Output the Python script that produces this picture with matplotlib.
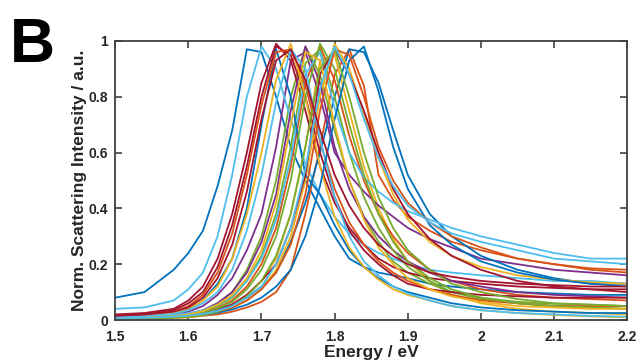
import matplotlib
matplotlib.use("Agg")
import matplotlib.pyplot as plt

plt.rcParams['font.family'] = ['Liberation Sans', 'DejaVu Sans']

energy = [1.50, 1.54, 1.58, 1.60, 1.62, 1.64, 1.66, 1.68, 1.70, 1.72, 1.74, 1.76, 1.78,
          1.80, 1.82, 1.84, 1.86, 1.88, 1.90, 1.93, 1.96, 2.00, 2.05, 2.10, 2.15, 2.20]

# normalised scattering spectra, one list per particle
blue_1 = [0.08, 0.10, 0.18, 0.24, 0.32, 0.48, 0.68, 0.97, 0.96, 0.80, 0.62, 0.50, 0.40,
          0.30, 0.22, 0.19, 0.17, 0.16, 0.15, 0.13, 0.12, 0.11, 0.10, 0.095, 0.09, 0.09]
blue_2 = [0.005, 0.01, 0.015, 0.02, 0.03, 0.04, 0.055, 0.08, 0.12, 0.17, 0.28, 0.42, 0.60,
          0.80, 0.97, 0.96, 0.85, 0.68, 0.52, 0.38, 0.30, 0.23, 0.18, 0.15, 0.13, 0.13]
blue_3 = [0.008, 0.012, 0.025, 0.04, 0.07, 0.13, 0.22, 0.40, 0.70, 0.97, 0.80, 0.52, 0.45,
          0.34, 0.25, 0.19, 0.15, 0.12, 0.10, 0.08, 0.06, 0.045, 0.035, 0.03, 0.025, 0.025]
blue_4 = [0.004, 0.006, 0.01, 0.013, 0.018, 0.026, 0.038, 0.055, 0.08, 0.12, 0.18, 0.30, 0.48,
          0.72, 0.93, 0.98, 0.82, 0.62, 0.47, 0.34, 0.27, 0.21, 0.17, 0.145, 0.13, 0.12]
lblue_1 = [0.04, 0.045, 0.07, 0.11, 0.17, 0.30, 0.52, 0.80, 0.98, 0.90, 0.72, 0.56, 0.45,
           0.37, 0.31, 0.27, 0.24, 0.22, 0.20, 0.18, 0.17, 0.16, 0.15, 0.14, 0.14, 0.13]
lblue_2 = [0.01, 0.012, 0.018, 0.024, 0.035, 0.055, 0.085, 0.14, 0.22, 0.36, 0.58, 0.88, 0.96,
           0.76, 0.60, 0.51, 0.46, 0.42, 0.39, 0.36, 0.33, 0.30, 0.27, 0.24, 0.22, 0.22]
lblue_3 = [0.01, 0.013, 0.022, 0.035, 0.06, 0.10, 0.18, 0.32, 0.52, 0.78, 0.97, 0.90, 0.65,
           0.44, 0.30, 0.21, 0.16, 0.12, 0.095, 0.07, 0.05, 0.035, 0.025, 0.02, 0.015, 0.012]
lblue_4 = [0.006, 0.008, 0.012, 0.016, 0.022, 0.033, 0.05, 0.08, 0.12, 0.20, 0.33, 0.54, 0.83,
           0.98, 0.88, 0.72, 0.58, 0.48, 0.41, 0.35, 0.31, 0.28, 0.25, 0.22, 0.21, 0.20]
red_1 = [0.02, 0.025, 0.04, 0.07, 0.12, 0.22, 0.38, 0.60, 0.85, 0.99, 0.93, 0.75, 0.55,
         0.42, 0.33, 0.27, 0.22, 0.19, 0.17, 0.15, 0.14, 0.13, 0.12, 0.115, 0.11, 0.11]
red_2 = [0.015, 0.02, 0.035, 0.06, 0.10, 0.19, 0.34, 0.55, 0.80, 0.98, 0.95, 0.80, 0.60,
         0.44, 0.32, 0.25, 0.20, 0.16, 0.13, 0.11, 0.10, 0.09, 0.085, 0.08, 0.08, 0.08]
red_3 = [0.004, 0.006, 0.01, 0.014, 0.021, 0.034, 0.056, 0.09, 0.14, 0.20, 0.33, 0.52, 0.88,
         0.97, 0.88, 0.75, 0.60, 0.47, 0.38, 0.29, 0.23, 0.18, 0.14, 0.12, 0.11, 0.10]
red_4 = [0.015, 0.02, 0.03, 0.045, 0.08, 0.15, 0.27, 0.46, 0.72, 0.93, 0.97, 0.86, 0.68,
         0.52, 0.41, 0.33, 0.27, 0.23, 0.20, 0.17, 0.155, 0.14, 0.13, 0.125, 0.12, 0.12]
orange_1 = [0.003, 0.005, 0.008, 0.01, 0.015, 0.02, 0.03, 0.045, 0.065, 0.10, 0.18, 0.38, 0.62,
            0.88, 0.97, 0.84, 0.52, 0.43, 0.37, 0.32, 0.28, 0.25, 0.22, 0.20, 0.185, 0.18]
orange_2 = [0.004, 0.006, 0.011, 0.016, 0.025, 0.043, 0.07, 0.12, 0.20, 0.33, 0.55, 0.85, 0.98,
            0.86, 0.66, 0.50, 0.38, 0.30, 0.24, 0.18, 0.14, 0.11, 0.09, 0.08, 0.075, 0.07]
orange_3 = [0.01, 0.015, 0.03, 0.05, 0.09, 0.17, 0.31, 0.52, 0.77, 0.96, 0.97, 0.84, 0.64,
            0.47, 0.35, 0.27, 0.21, 0.17, 0.14, 0.11, 0.09, 0.07, 0.06, 0.05, 0.05, 0.05]
orange_4 = [0.004, 0.006, 0.01, 0.013, 0.02, 0.03, 0.045, 0.07, 0.11, 0.17, 0.27, 0.45, 0.75,
            0.97, 0.95, 0.80, 0.62, 0.50, 0.42, 0.35, 0.30, 0.26, 0.22, 0.20, 0.18, 0.17]
yellow_1 = [0.003, 0.005, 0.009, 0.013, 0.02, 0.033, 0.055, 0.09, 0.14, 0.22, 0.38, 0.62, 0.93,
            0.95, 0.75, 0.55, 0.40, 0.29, 0.21, 0.14, 0.09, 0.06, 0.04, 0.03, 0.025, 0.02]
yellow_2 = [0.003, 0.004, 0.007, 0.01, 0.016, 0.026, 0.043, 0.07, 0.11, 0.18, 0.30, 0.50, 0.80,
            0.99, 0.90, 0.74, 0.58, 0.45, 0.36, 0.28, 0.23, 0.19, 0.16, 0.145, 0.135, 0.13]
yellow_3 = [0.008, 0.012, 0.025, 0.04, 0.07, 0.12, 0.22, 0.38, 0.60, 0.86, 0.99, 0.80, 0.55,
            0.37, 0.26, 0.19, 0.145, 0.11, 0.09, 0.07, 0.05, 0.035, 0.025, 0.018, 0.013, 0.01]
yellow_4 = [0.005, 0.008, 0.014, 0.02, 0.032, 0.055, 0.09, 0.15, 0.25, 0.42, 0.70, 0.96, 0.93,
            0.70, 0.50, 0.36, 0.26, 0.20, 0.15, 0.11, 0.085, 0.065, 0.05, 0.045, 0.04, 0.04]
purple_1 = [0.005, 0.01, 0.02, 0.03, 0.05, 0.09, 0.15, 0.25, 0.38, 0.62, 0.93, 0.96, 0.80,
            0.60, 0.52, 0.46, 0.41, 0.37, 0.33, 0.29, 0.26, 0.22, 0.20, 0.18, 0.17, 0.16]
purple_2 = [0.004, 0.008, 0.015, 0.022, 0.035, 0.06, 0.10, 0.17, 0.28, 0.45, 0.75, 0.98, 0.85,
            0.62, 0.47, 0.37, 0.30, 0.25, 0.21, 0.17, 0.14, 0.12, 0.10, 0.09, 0.085, 0.08]
green_1 = [0.005, 0.008, 0.014, 0.02, 0.035, 0.06, 0.10, 0.18, 0.30, 0.50, 0.80, 0.98, 0.88,
           0.68, 0.50, 0.37, 0.28, 0.21, 0.17, 0.13, 0.10, 0.08, 0.065, 0.058, 0.055, 0.05]
green_2 = [0.004, 0.007, 0.012, 0.017, 0.028, 0.05, 0.08, 0.14, 0.23, 0.38, 0.62, 0.92, 0.97,
           0.80, 0.60, 0.44, 0.33, 0.25, 0.19, 0.14, 0.10, 0.075, 0.06, 0.05, 0.045, 0.04]
green_3 = [0.003, 0.005, 0.01, 0.014, 0.022, 0.04, 0.065, 0.11, 0.18, 0.30, 0.50, 0.80, 0.99,
           0.90, 0.70, 0.52, 0.38, 0.28, 0.21, 0.15, 0.11, 0.08, 0.06, 0.05, 0.045, 0.04]
green_4 = [0.003, 0.004, 0.008, 0.011, 0.018, 0.03, 0.05, 0.085, 0.14, 0.23, 0.38, 0.62, 0.90,
           0.97, 0.80, 0.60, 0.44, 0.33, 0.25, 0.18, 0.13, 0.10, 0.075, 0.06, 0.055, 0.05]

# MATLAB default line colours
C_BLUE = '#0072BD'
C_ORANGE = '#D95319'
C_YELLOW = '#EDB120'
C_PURPLE = '#7E2F8E'
C_GREEN = '#77AC30'
C_LBLUE = '#4DBEEE'
C_RED = '#A2142F'

spectra = [
    (blue_1, C_BLUE), (orange_1, C_ORANGE), (yellow_1, C_YELLOW), (purple_1, C_PURPLE),
    (green_1, C_GREEN), (lblue_1, C_LBLUE), (red_1, C_RED),
    (blue_2, C_BLUE), (orange_2, C_ORANGE), (yellow_2, C_YELLOW), (purple_2, C_PURPLE),
    (green_2, C_GREEN), (lblue_2, C_LBLUE), (red_2, C_RED),
    (blue_3, C_BLUE), (orange_3, C_ORANGE), (yellow_3, C_YELLOW), (green_3, C_GREEN),
    (lblue_3, C_LBLUE), (red_3, C_RED),
    (blue_4, C_BLUE), (orange_4, C_ORANGE), (yellow_4, C_YELLOW), (green_4, C_GREEN),
    (lblue_4, C_LBLUE), (red_4, C_RED),
]

x_ticks = [1.5, 1.6, 1.7, 1.8, 1.9, 2.0, 2.1, 2.2]
x_tick_labels = ['1.5', '1.6', '1.7', '1.8', '1.9', '2', '2.1', '2.2']
y_ticks = [0, 0.2, 0.4, 0.6, 0.8, 1.0]
y_tick_labels = ['0', '0.2', '0.4', '0.6', '0.8', '1']

fig = plt.figure(figsize=(6.4, 3.62), dpi=100)
ax = fig.add_axes([0.18, 0.116, 0.8, 0.771])

for values, color in spectra:
    ax.plot(energy, values, color=color, lw=1.3)

ax.set_xlim(1.5, 2.2)
ax.set_ylim(0, 1)
ax.set_xticks(x_ticks)
ax.set_xticklabels(x_tick_labels)
ax.set_yticks(y_ticks)
ax.set_yticklabels(y_tick_labels)
ax.tick_params(direction='in', length=5, width=1.2, top=True, right=True,
               labelsize=10, color='#404040')
ax.tick_params(axis='x', pad=7)
ax.tick_params(axis='y', pad=5)
for lbl in ax.get_xticklabels() + ax.get_yticklabels():
    lbl.set_fontweight('bold')
    lbl.set_color('#262626')
for side in ax.spines.values():
    side.set_linewidth(1.3)
    side.set_color('#404040')

ax.set_xlabel('Energy / eV', fontsize=12.5, fontweight='bold', color='#262626')
ax.set_ylabel('Norm. Scattering Intensity / a.u.', fontsize=12.5, fontweight='bold',
              color='#262626')
ax.xaxis.set_label_coords(0.5, -0.088)
ax.yaxis.set_label_coords(-0.055, 0.5)

fig.text(0.015, 0.83, 'B', fontsize=45, fontweight='bold', color='black')

fig.savefig('out.png', dpi=100)
